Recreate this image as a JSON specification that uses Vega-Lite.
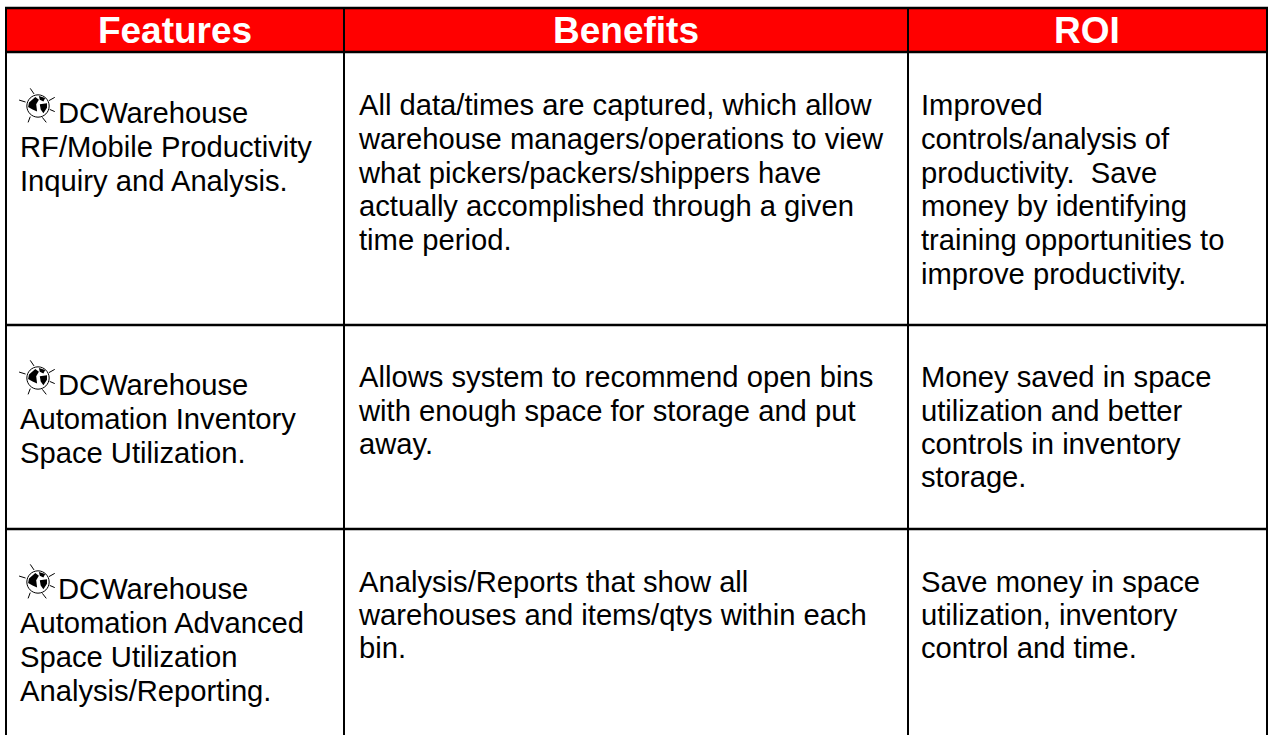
{"$schema":"https://vega.github.io/schema/vega-lite/v6.json","width":1269,"height":735,"autosize":{"type":"fit","contains":"padding"},"padding":0,"background":"white","view":{"stroke":null},
"datasets":{
"head":[{"x":6,"x2":1267,"y":8,"y2":52}],
"vlines":[{"x":6,"y":7,"y2":735},{"x":344,"y":7,"y2":735},{"x":908,"y":7,"y2":735},{"x":1267,"y":7,"y2":735}],
"hlines":[{"y":8},{"y":52},{"y":325},{"y":529}],
"heads":[{"x":175,"y":43,"t":"Features"},{"x":626,"y":43,"t":"Benefits"},{"x":1087,"y":43,"t":"ROI"}],
"icons":[{"x":38,"y":106},{"x":38,"y":378},{"x":38,"y":582}],
"cells":[
{"x":58,"y":123,"t":"DCWarehouse"},{"x":20,"y":157,"t":"RF/Mobile Productivity"},{"x":20,"y":191,"t":"Inquiry and Analysis."},
{"x":359,"y":115,"t":"All data/times are captured, which allow"},{"x":359,"y":149,"t":"warehouse managers/operations to view"},{"x":359,"y":183,"t":"what pickers/packers/shippers have"},{"x":359,"y":216,"t":"actually accomplished through a given"},{"x":359,"y":250,"t":"time period."},
{"x":921,"y":115,"t":"Improved"},{"x":921,"y":149,"t":"controls/analysis of"},{"x":921,"y":183,"t":"productivity.\u00a0 Save"},{"x":921,"y":216,"t":"money by identifying"},{"x":921,"y":250,"t":"training opportunities to"},{"x":921,"y":284,"t":"improve productivity."},
{"x":58,"y":395,"t":"DCWarehouse"},{"x":20,"y":429,"t":"Automation Inventory"},{"x":20,"y":463,"t":"Space Utilization."},
{"x":359,"y":387,"t":"Allows system to recommend open bins"},{"x":359,"y":421,"t":"with enough space for storage and put"},{"x":359,"y":454,"t":"away."},
{"x":921,"y":387,"t":"Money saved in space"},{"x":921,"y":421,"t":"utilization and better"},{"x":921,"y":454,"t":"controls in inventory"},{"x":921,"y":487,"t":"storage."},
{"x":58,"y":599,"t":"DCWarehouse"},{"x":20,"y":633,"t":"Automation Advanced"},{"x":20,"y":667,"t":"Space Utilization"},{"x":20,"y":701,"t":"Analysis/Reporting."},
{"x":359,"y":592,"t":"Analysis/Reports that show all"},{"x":359,"y":625,"t":"warehouses and items/qtys within each"},{"x":359,"y":658,"t":"bin."},
{"x":921,"y":592,"t":"Save money in space"},{"x":921,"y":625,"t":"utilization, inventory"},{"x":921,"y":658,"t":"control and time."}
]},
"layer":[
{"data":{"name":"head"},"mark":{"type":"rect","color":"#ff0000"},"encoding":{"x":{"field":"x","type":"quantitative","scale":{"domain":[0,1269],"range":[0,1269]},"axis":null},"x2":{"field":"x2"},"y":{"field":"y","type":"quantitative","scale":{"domain":[0,735],"range":[0,735]},"axis":null},"y2":{"field":"y2"}}},
{"data":{"name":"vlines"},"mark":{"type":"rule","color":"black","strokeWidth":2},"encoding":{"x":{"field":"x","type":"quantitative","scale":{"domain":[0,1269],"range":[0,1269]},"axis":null},"y":{"field":"y","type":"quantitative","scale":{"domain":[0,735],"range":[0,735]},"axis":null},"y2":{"field":"y2"}}},
{"data":{"name":"hlines"},"mark":{"type":"rule","color":"black","strokeWidth":2.5},"encoding":{"y":{"field":"y","type":"quantitative","scale":{"domain":[0,735],"range":[0,735]},"axis":null},"x":{"datum":5,"type":"quantitative","scale":{"domain":[0,1269],"range":[0,1269]},"axis":null},"x2":{"datum":1268}}},
{"data":{"name":"heads"},"mark":{"type":"text","font":"Liberation Sans","fontWeight":"bold","fontSize":37,"color":"white","align":"center","baseline":"alphabetic"},"encoding":{"x":{"field":"x","type":"quantitative","scale":{"domain":[0,1269],"range":[0,1269]},"axis":null},"y":{"field":"y","type":"quantitative","scale":{"domain":[0,735],"range":[0,735]},"axis":null},"text":{"field":"t"}}},
{"data":{"name":"cells"},"mark":{"type":"text","font":"Liberation Sans","fontSize":29.2,"color":"black","align":"left","baseline":"alphabetic"},"encoding":{"x":{"field":"x","type":"quantitative","scale":{"domain":[0,1269],"range":[0,1269]},"axis":null},"y":{"field":"y","type":"quantitative","scale":{"domain":[0,735],"range":[0,735]},"axis":null},"text":{"field":"t"}}},
{"data":{"name":"icons"},"mark":{"type":"point","filled":false,"stroke":"black","strokeWidth":1,"opacity":1,"size":1296,"shape":"M-0.62,0 A0.62,0.62 0 1 1 0.62,0 A0.62,0.62 0 1 1 -0.62,0 Z M-0.43,-0.98 L-0.22,-0.67 M-1.05,-0.33 L-0.69,-0.22 M0.93,-0.48 L0.61,-0.3 M0.93,0.31 L0.65,0.19 M0.46,0.91 L0.24,0.63 M-0.55,0.91 L-0.43,0.59"},"encoding":{"x":{"field":"x","type":"quantitative","scale":{"domain":[0,1269],"range":[0,1269]},"axis":null},"y":{"field":"y","type":"quantitative","scale":{"domain":[0,735],"range":[0,735]},"axis":null}}},
{"data":{"name":"icons"},"mark":{"type":"point","filled":true,"color":"black","opacity":1,"size":1296,"shape":"M-0.5,-0.2 L-0.15,-0.5 L0.05,-0.35 L-0.1,-0.1 L-0.05,0.3 L-0.3,0.2 L-0.55,0.05 Z M0.05,-0.55 L0.4,-0.45 L0.3,-0.25 L0.1,-0.35 Z M0.1,-0.1 L0.5,-0.15 L0.5,0.1 L0.3,0.4 L0.15,0.2 Z"},"encoding":{"x":{"field":"x","type":"quantitative","scale":{"domain":[0,1269],"range":[0,1269]},"axis":null},"y":{"field":"y","type":"quantitative","scale":{"domain":[0,735],"range":[0,735]},"axis":null}}}
]}
